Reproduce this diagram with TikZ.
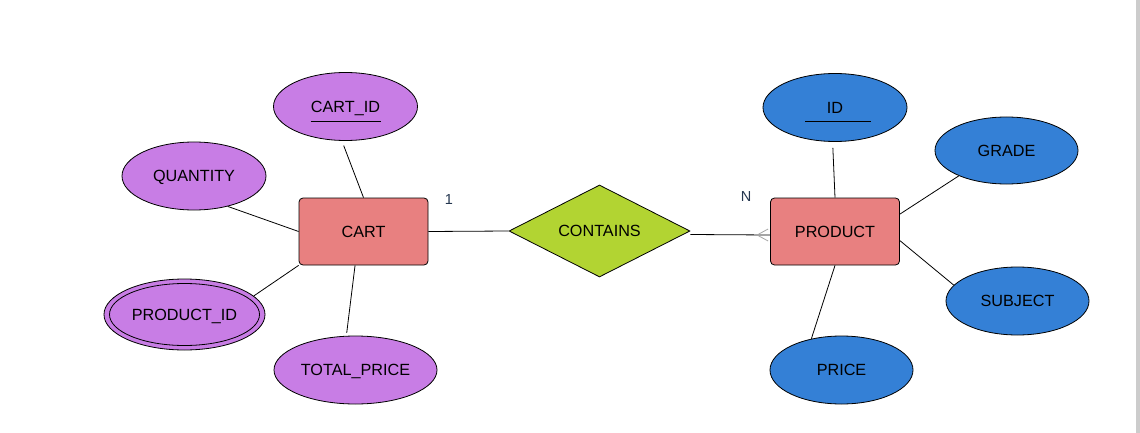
\documentclass[tikz,border=0pt]{standalone}
\usepackage{fontspec}
\setmainfont{Liberation Sans}
\usetikzlibrary{shapes.geometric,shapes.misc,calc}
\definecolor{attrP}{HTML}{C87DE5}
\definecolor{attrB}{HTML}{3480D6}
\definecolor{entC}{HTML}{E88080}
\definecolor{relC}{HTML}{B2D432}
\definecolor{cardC}{HTML}{24364F}
\definecolor{barC}{HTML}{CCCCCC}
\begin{document}
\begin{tikzpicture}[x=1pt,y=-1pt,
  every node/.style={font=\fontsize{16.2}{19}\selectfont, text=black, text height=11.6pt, text depth=0pt},
  attr/.style={ellipse, draw=black, line width=0.8pt, inner sep=0pt, minimum width=144pt, minimum height=68pt},
  pattr/.style={attr, fill=attrP},
  battr/.style={attr, fill=attrB},
  ent/.style={rectangle, rounded corners=4pt, draw=black, line width=0.8pt, fill=entC, minimum width=129pt, minimum height=67pt, inner sep=0pt},
  rel/.style={diamond, aspect=2, draw=black, line width=0.8pt, fill=relC, minimum width=181pt, minimum height=92pt, inner sep=0pt},
  conn/.style={draw=black, line width=0.8pt},
  card/.style={text=cardC, font=\fontsize{14.5}{17}\selectfont, text height=10.5pt}
]
\fill[white] (0,0) rectangle (1140,433);
\useasboundingbox (0,0) rectangle (1140,433);
\fill[barC] (1136,0) rectangle (1140,433);

% entities and relationship
\node[ent] (cart) at (363.5,231.5) {CART};
\node[ent] (product) at (835,231.5) {PRODUCT};
\node[rel] (contains) at (599.5,231) {CONTAINS};

% CART attributes
\node[pattr] (cartid) at (345.5,106.5) {CART\_ID};
\draw[line width=0.8pt] ($(cartid.center)+(-35,14.5)$) -- ($(cartid.center)+(35,14.5)$);
\node[pattr] (quantity) at (194,176) {QUANTITY};
\node[pattr, minimum width=161pt, minimum height=71pt] (productid) at (184.5,314.5) {PRODUCT\_ID};
\node[ellipse, draw=black, line width=0.8pt, inner sep=0pt, minimum width=150pt, minimum height=62pt] (productidin) at (productid.center) {};
\node[pattr, minimum width=163pt] (totalprice) at (355.5,370) {TOTAL\_PRICE};

% PRODUCT attributes
\node[battr] (id) at (835,107.5) {ID};
\draw[line width=0.8pt] ($(id.center)+(-30,14)$) -- ($(id.center)+(36,14)$);
\node[battr, minimum width=143pt, minimum height=67pt] (grade) at (1006.5,150.5) {GRADE};
\node[battr, minimum width=143pt] (subject) at (1017.5,301) {SUBJECT};
\node[battr, minimum width=143pt] (price) at (841.5,370) {PRICE};

% connectors for CART
\draw[conn, shorten <=5pt] (cartid.264) -- (cart.north);
\draw[conn] (quantity.-42) -- (cart.west);
\draw[conn] (productid.15) -- (cart.south west);
\draw[conn, shorten <=3pt] (totalprice.105) -- (cart.256);

% connectors for PRODUCT
\draw[conn, shorten <=6pt] (id.266) -- (product.north);
\draw[conn] (grade.208) -- (product.15);
\draw[conn] (subject.166) -- (product.-8);
\draw[conn] (price.134) -- (product.south);

% relationship connectors
\draw[conn] (cart.east) -- (contains.west);
\coordinate (cfapex) at ($(product.west)+(-13,3.5)$);
\draw[conn] ($(contains.east)+(0,3.5)$) -- ($(product.west)+(0,3.5)$);
\draw[draw=gray!70, line width=0.8pt] ($(product.west)+(-2,-2.5)$) -- (cfapex) -- ($(product.west)+(-2,9.5)$);

% cardinalities
\node[card] (one) at (449,199) {1};
\node[card] (many) at (746,196) {N};
\end{tikzpicture}
\end{document}
